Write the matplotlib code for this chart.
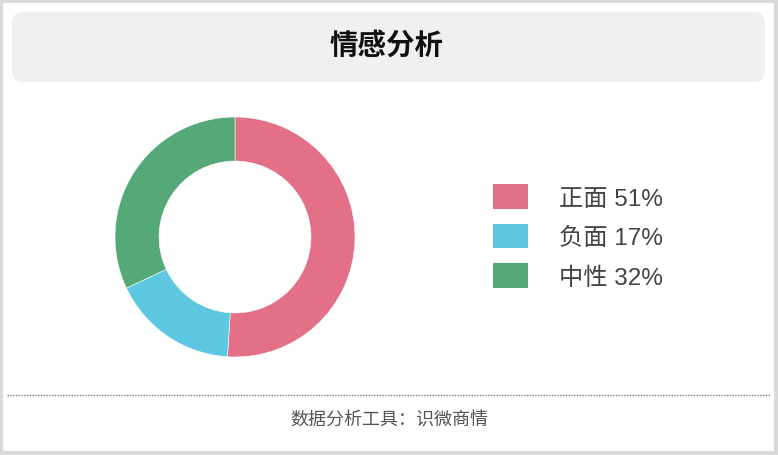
import matplotlib
matplotlib.use("Agg")
import matplotlib.pyplot as plt
from matplotlib.patches import FancyBboxPatch, Rectangle, Patch

plt.rcParams["font.family"] = ["Noto Sans CJK SC", "DejaVu Sans"]

# data
labels = ["正面", "负面", "中性"]
shares = [51, 17, 32]
colors = ["#E37086", "#5EC8E2", "#55A877"]
title = "情感分析"
footer = "数据分析工具：识微商情"

W, H = 778, 456
fig = plt.figure(figsize=(W / 100, H / 100), dpi=100)
fig.patch.set_facecolor("white")

# background layer in pixel coordinates
bg = fig.add_axes([0, 0, 1, 1])
bg.set_xlim(0, W)
bg.set_ylim(H, 0)
bg.axis("off")
bg.add_patch(Rectangle((1.5, 1.5), W - 3, H - 3, fill=False,
                       ec="#DADADA", lw=3))
bg.add_patch(FancyBboxPatch((12, 13), 753, 70,
                            boxstyle="round,pad=0,rounding_size=11",
                            fc="#F0F0F0", ec="none"))
bg.plot([7, W - 7], [396.5, 396.5], ls=(0, (1, 1)), color="#777777", lw=1)
bg.text(W / 2 - 2, 46, title, ha="center", va="center",
        fontsize=20.5, fontweight="bold", color="#111111")
bg.text(W / 2, 420, footer, ha="center", va="center",
        fontsize=13, color="#555555")

# donut
cx, cy, r = 235, 238, 120
ax = fig.add_axes([(cx - r) / W, (H - cy - r) / H, 2 * r / W, 2 * r / H])
ax.pie(shares, colors=colors, startangle=90, counterclock=False,
       radius=1, wedgeprops=dict(width=0.367, edgecolor="white", lw=0.4))
ax.set_xlim(-1, 1)
ax.set_ylim(-1, 1)
ax.set_aspect("equal")
ax.axis("off")

# legend
handles = [Patch(fc=c, ec="none") for c in colors]
texts = [f"{l} {s}%" for l, s in zip(labels, shares)]
leg = fig.legend(handles, texts, loc="upper left",
                 bbox_to_anchor=(493 / W, 1 - 185 / H),
                 frameon=False, handlelength=1.42,
                 handleheight=1.2, labelspacing=0.57, handletextpad=1.3,
                 borderpad=0, borderaxespad=0,
                 prop=dict(family=["Liberation Sans", "Noto Sans CJK SC"],
                           size=17.5))
for t in leg.get_texts():
    t.set_color("#444444")

fig.savefig("out.png", dpi=100)
